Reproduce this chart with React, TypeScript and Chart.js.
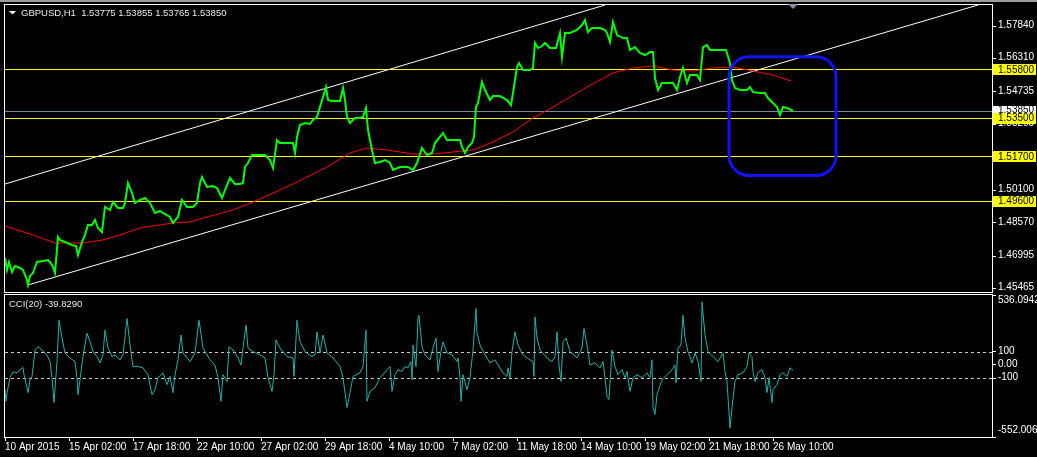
import React, { useEffect, useRef } from 'react';
import { Chart, registerables } from 'chart.js';

Chart.register(...registerables);

const W = 1037;
const H = 457;
const FONT = "'Liberation Sans', Arial, sans-serif";

// ---- Price panel data (bar index from left edge, H1 close) ----
const priceBars = [0, 2, 4, 7, 10, 15, 18, 22, 23, 25, 28, 32, 38, 43, 45, 48, 50, 53, 55, 60, 67, 71, 73, 77, 80, 83, 87, 90, 93, 95, 97, 100, 105, 108, 113, 118, 120, 123, 127, 130, 135, 140, 145, 150, 155, 158, 165, 168, 173, 177, 182, 188, 192, 195, 197, 202, 208, 212, 217, 220, 225, 230, 235, 238, 240, 243, 247, 253, 260, 265, 268, 272, 275, 282, 288, 290, 292, 295, 300, 305, 308, 312, 315, 318, 321, 323, 327, 335, 338, 340, 342, 345, 350, 355, 358, 361, 363, 367, 370, 375, 380, 385, 388, 395, 403, 408, 412, 417, 422, 427, 430, 438, 442, 450, 455, 457, 460, 463, 467, 469, 471, 473, 477, 480, 485, 488, 495, 502, 506, 508, 512, 514, 518, 525, 528, 530, 533, 537, 540, 545, 551, 555, 557, 560, 565, 572, 577, 580, 583, 587, 595, 600, 602, 605, 608, 612, 618, 622, 625, 630, 635, 640, 645, 648, 650, 653, 657, 665, 668, 672, 675, 678, 682, 685, 692, 695, 698, 702, 705, 715, 721, 725, 727, 730, 735, 742, 745, 748, 755, 760, 763, 768, 772, 775, 778, 782, 788];
const priceClose = [1.46912, 1.46347, 1.46724, 1.46253, 1.46535, 1.46441, 1.46347, 1.45876, 1.4564, 1.46064, 1.46206, 1.46724, 1.46771, 1.46818, 1.46724, 1.46488, 1.46206, 1.47901, 1.4776, 1.47666, 1.47524, 1.47477, 1.47053, 1.47666, 1.47995, 1.48466, 1.48466, 1.48702, 1.48325, 1.48231, 1.48137, 1.49314, 1.49173, 1.4955, 1.49267, 1.49267, 1.49503, 1.50445, 1.49974, 1.49503, 1.49644, 1.49738, 1.49503, 1.49032, 1.49126, 1.49032, 1.48843, 1.48561, 1.48843, 1.49644, 1.49314, 1.49314, 1.49503, 1.50445, 1.50727, 1.50256, 1.50303, 1.50209, 1.49738, 1.50115, 1.5068, 1.50398, 1.50398, 1.50445, 1.51198, 1.51387, 1.51763, 1.51763, 1.51763, 1.51528, 1.51151, 1.5247, 1.52329, 1.52329, 1.52329, 1.51858, 1.52611, 1.53176, 1.53271, 1.53224, 1.53412, 1.53553, 1.54024, 1.54495, 1.54966, 1.54354, 1.54307, 1.54307, 1.54919, 1.54354, 1.53553, 1.53271, 1.53506, 1.53506, 1.53553, 1.53977, 1.52941, 1.51999, 1.51387, 1.51434, 1.51528, 1.51387, 1.51057, 1.51198, 1.51198, 1.51057, 1.51387, 1.52093, 1.51763, 1.51858, 1.52329, 1.528, 1.5247, 1.5247, 1.5247, 1.5214, 1.51858, 1.5214, 1.52329, 1.52611, 1.54024, 1.54213, 1.55202, 1.54825, 1.54354, 1.54542, 1.54542, 1.54354, 1.54118, 1.54684, 1.55908, 1.56097, 1.55767, 1.55767, 1.55861, 1.57039, 1.56803, 1.56897, 1.57039, 1.56803, 1.56803, 1.5751, 1.56379, 1.5751, 1.5751, 1.57651, 1.57886, 1.58122, 1.57557, 1.57745, 1.57745, 1.57651, 1.5751, 1.57086, 1.58028, 1.57415, 1.57274, 1.57274, 1.56709, 1.5685, 1.56568, 1.56473, 1.56615, 1.56615, 1.5539, 1.54825, 1.55155, 1.55155, 1.55155, 1.54825, 1.55437, 1.55861, 1.55155, 1.55531, 1.55531, 1.55296, 1.5685, 1.56944, 1.56709, 1.56709, 1.56709, 1.56097, 1.55296, 1.54919, 1.54825, 1.54825, 1.54966, 1.54731, 1.54684, 1.54684, 1.54448, 1.54213, 1.54024, 1.53647, 1.54024, 1.53977, 1.5385];

const maBars = [0, 28, 50, 65, 78, 98, 115, 135, 168, 185, 202, 228, 248, 264, 288, 322, 345, 362, 382, 408, 428, 448, 468, 488, 508, 528, 548, 582, 608, 628, 648, 668, 688, 708, 728, 748, 768, 786];
const maValues = [1.48419, 1.47995, 1.47619, 1.47619, 1.47619, 1.4776, 1.47995, 1.48325, 1.48561, 1.48608, 1.48843, 1.49173, 1.4955, 1.49879, 1.50398, 1.51198, 1.51858, 1.52093, 1.51999, 1.51811, 1.51811, 1.51905, 1.51999, 1.52376, 1.52847, 1.53506, 1.54024, 1.54966, 1.55626, 1.55861, 1.55955, 1.55767, 1.5572, 1.55861, 1.55908, 1.5572, 1.55531, 1.55249];

const channelUpperBars = [0, 600];
const channelUpperPrices = [1.50398, 1.58828];
const channelLowerBars = [23, 973];
const channelLowerPrices = [1.4564, 1.58828];

const levelPrices = [1.558, 1.535, 1.517, 1.496];
const levelLabels = ['1.55800', '1.53500', '1.51700', '1.49600'];
const bidPrice = 1.5385;
const bidLabel = '1.53850';

const priceTicks = [1.45465, 1.46995, 1.4857, 1.501, 1.5163, 1.53205, 1.54735, 1.5631, 1.5784];
const priceMin = 1.4531;
const priceMax = 1.5883;

const boxBars = [724, 831];
const boxPrices = [1.5639, 1.508];

const titleText = 'GBPUSD,H1  1.53775 1.53855 1.53765 1.53850';

// ---- CCI panel data ----
const cciBars = [0, 1, 2, 5, 8, 12, 15, 18, 19, 22, 23, 25, 27, 30, 33, 37, 42, 45, 47, 49, 52, 54, 57, 60, 65, 70, 72, 73, 75, 78, 82, 85, 88, 92, 95, 98, 100, 103, 107, 110, 115, 118, 122, 125, 128, 133, 138, 143, 147, 150, 153, 158, 162, 165, 168, 170, 173, 176, 178, 185, 190, 194, 198, 205, 210, 213, 216, 218, 222, 224, 228, 233, 236, 238, 241, 243, 248, 255, 260, 263, 267, 269, 271, 275, 282, 288, 289, 292, 295, 300, 307, 310, 312, 315, 318, 322, 328, 335, 338, 342, 345, 348, 355, 358, 361, 362, 365, 370, 375, 382, 385, 387, 390, 393, 397, 400, 403, 406, 407, 408, 411, 413, 414, 417, 420, 425, 428, 431, 433, 436, 438, 442, 447, 452, 453, 455, 456, 458, 462, 465, 468, 471, 472, 475, 480, 485, 490, 493, 498, 502, 503, 505, 507, 510, 513, 518, 525, 528, 529, 530, 532, 535, 542, 547, 550, 552, 554, 556, 558, 561, 565, 572, 577, 579, 582, 585, 590, 595, 598, 600, 602, 604, 607, 610, 613, 617, 620, 622, 625, 628, 632, 637, 642, 645, 647, 648, 650, 652, 657, 662, 667, 670, 671, 673, 676, 678, 680, 683, 687, 690, 693, 696, 697, 700, 703, 708, 713, 718, 720, 722, 725, 727, 730, 733, 738, 742, 744, 747, 748, 750, 753, 757, 760, 762, 764, 767, 768, 772, 775, 778, 782, 785, 788];
const cciValues = [-189, -278, -212, -98, -52, -60, -37, -19, -75, -174, -212, -113, -90, 115, 140, 115, 77, 26, -98, -288, 26, 343, 206, 92, 54, 26, -98, -227, -113, 64, 244, 178, 102, 64, 16, 77, 267, 130, 64, 77, 39, 77, 356, 153, -12, -12, -22, -75, -227, -189, -98, -60, -151, -88, -212, -75, 39, 229, 92, 26, 92, 343, 130, 39, 0, -98, -278, -75, -126, 140, 115, 54, 0, 130, 305, 130, 102, 77, 54, -98, -202, -75, 191, 130, 64, 54, -88, 343, 178, 102, 64, 77, 254, 92, 229, 92, 54, -12, -98, -326, -212, -88, -60, -12, 267, -278, -202, -174, -98, -37, -12, -202, -75, -37, -50, -12, -22, 26, -113, 153, -12, 356, 381, 140, 77, 39, 130, 206, -50, 102, 178, 92, 77, 26, 54, -98, -278, -75, -189, -98, 115, 432, 244, 153, 77, 16, 39, 0, -60, -88, -22, -98, 102, 254, 153, 77, 39, 26, -88, 368, 206, 115, 54, 26, 64, 254, 0, -126, 178, 206, 102, 54, 130, 280, 153, 0, 16, -22, 26, -98, -240, -265, 115, -12, -75, -37, -98, -50, -202, -98, -75, -98, -60, -98, 39, -326, -379, -227, -113, -75, -37, 0, -136, 130, 153, 381, 206, 102, 16, 92, 26, -126, 483, 229, 102, 64, 26, 92, -50, -126, -485, -326, -126, -75, -60, -12, 92, 64, -50, -126, -60, -37, -98, -212, -98, -288, -189, -151, -75, -60, -88, -22, -40];

const cciTicks = [-552.0064, -100, 0, 100, 536.0942];
const cciTickLabels = ['-552.0064', '-100', '0.00', '100', '536.0942'];
const cciLevels = [100, -100];
const cciMin = -552.0064;
const cciMax = 536.0942;
const cciTitle = 'CCI(20) -39.8290';

const timeTickBars = [0, 64, 128, 192, 256, 320, 384, 448, 512, 576, 640, 704, 768];
const timeLabels = ['10 Apr 2015', '15 Apr 02:00', '17 Apr 18:00', '22 Apr 10:00', '27 Apr 02:00', '29 Apr 18:00', '4 May 10:00', '7 May 02:00', '11 May 18:00', '14 May 10:00', '19 May 02:00', '21 May 18:00', '26 May 10:00'];

const BAR_SPAN = 987;

const toXY = (xs: number[], ys: number[]) => xs.map((x, i) => ({ x, y: ys[i] }));

function roundRectPath(ctx: CanvasRenderingContext2D, x: number, y: number, w: number, h: number, r: number) {
  ctx.beginPath();
  ctx.moveTo(x + r, y);
  ctx.lineTo(x + w - r, y);
  ctx.arcTo(x + w, y, x + w, y + r, r);
  ctx.lineTo(x + w, y + h - r);
  ctx.arcTo(x + w, y + h, x + w - r, y + h, r);
  ctx.lineTo(x + r, y + h);
  ctx.arcTo(x, y + h, x, y + h - r, r);
  ctx.lineTo(x, y + r);
  ctx.arcTo(x, y, x + r, y, r);
  ctx.closePath();
}

const fixVertical = (s: any) => {
  s.width = 45;
  s.paddingTop = 0;
  s.paddingBottom = 0;
};

const fixHorizontal = (s: any) => {
  s.height = 20;
  s.paddingLeft = 0;
  s.paddingRight = 0;
};

const mainPlugin = {
  id: 'mainDecor',
  beforeDraw(chart: any) {
    const ctx = chart.ctx;
    ctx.save();
    ctx.fillStyle = '#9c9c9c';
    ctx.fillRect(0, 0, W, 2);
    ctx.restore();
  },
  beforeDatasetsDraw(chart: any) {
    const { ctx, chartArea: a, scales } = chart;
    const y = scales.y;
    ctx.save();
    ctx.beginPath();
    ctx.rect(a.left, a.top, a.right - a.left, a.bottom - a.top);
    ctx.clip();
    ctx.lineWidth = 1;
    const by = Math.round(y.getPixelForValue(bidPrice)) + 0.5;
    ctx.strokeStyle = '#778899';
    ctx.beginPath();
    ctx.moveTo(a.left, by);
    ctx.lineTo(a.right, by);
    ctx.stroke();
    ctx.strokeStyle = '#ffff00';
    levelPrices.forEach((p) => {
      const py = Math.round(y.getPixelForValue(p)) + 0.5;
      ctx.beginPath();
      ctx.moveTo(a.left, py);
      ctx.lineTo(a.right, py);
      ctx.stroke();
    });
    ctx.restore();
  },
  afterDatasetsDraw(chart: any) {
    const { ctx, scales } = chart;
    const x1 = scales.x.getPixelForValue(boxBars[0]);
    const x2 = scales.x.getPixelForValue(boxBars[1]);
    const y1 = scales.y.getPixelForValue(boxPrices[0]);
    const y2 = scales.y.getPixelForValue(boxPrices[1]);
    ctx.save();
    ctx.strokeStyle = '#1212f5';
    ctx.lineWidth = 3;
    roundRectPath(ctx, x1, y1, x2 - x1, y2 - y1, 20);
    ctx.stroke();
    ctx.restore();
  },
  afterDraw(chart: any) {
    const { ctx, chartArea: a, scales } = chart;
    const y = scales.y;
    ctx.save();
    ctx.strokeStyle = '#ffffff';
    ctx.lineWidth = 1;
    ctx.strokeRect(a.left - 0.5, a.top - 0.5, a.right - a.left + 1, a.bottom - a.top + 1);
    ctx.font = `10px ${FONT}`;
    ctx.textBaseline = 'middle';
    ctx.textAlign = 'left';
    // bid label
    const by = y.getPixelForValue(bidPrice);
    ctx.fillStyle = '#ffffff';
    ctx.fillRect(a.right + 1, Math.round(by) - 5, W - a.right - 2, 11);
    ctx.fillStyle = '#000000';
    ctx.fillText(bidLabel, a.right + 6, by);
    levelPrices.forEach((p, i) => {
      const py = y.getPixelForValue(p);
      ctx.fillStyle = '#ffff00';
      ctx.fillRect(a.right + 1, Math.round(py) - 5, W - a.right - 2, 11);
      ctx.fillStyle = '#000000';
      ctx.fillText(levelLabels[i], a.right + 6, py + 0.5);
    });
    // title
    ctx.fillStyle = '#ffffff';
    ctx.beginPath();
    ctx.moveTo(9, 11);
    ctx.lineTo(16, 11);
    ctx.lineTo(12.5, 14.5);
    ctx.closePath();
    ctx.fill();
    ctx.font = `9.5px ${FONT}`;
    ctx.fillStyle = '#e8e8e8';
    ctx.fillText(titleText, 21, 13);
    // chart shift marker
    const sx = scales.x.getPixelForValue(priceBars[priceBars.length - 1]);
    ctx.fillStyle = '#8592a0';
    ctx.beginPath();
    ctx.moveTo(sx - 5, 4);
    ctx.lineTo(sx + 5, 4);
    ctx.lineTo(sx, 9);
    ctx.closePath();
    ctx.fill();
    ctx.restore();
  },
};

const cciPlugin = {
  id: 'cciDecor',
  beforeDatasetsDraw(chart: any) {
    const { ctx, chartArea: a, scales } = chart;
    ctx.save();
    ctx.strokeStyle = '#c8c8c8';
    ctx.lineWidth = 1;
    ctx.setLineDash([3, 3]);
    cciLevels.forEach((v) => {
      const py = Math.round(scales.y.getPixelForValue(v)) + 0.5;
      ctx.beginPath();
      ctx.moveTo(a.left, py);
      ctx.lineTo(a.right, py);
      ctx.stroke();
    });
    ctx.restore();
  },
  afterDraw(chart: any) {
    const { ctx, chartArea: a } = chart;
    ctx.save();
    ctx.strokeStyle = '#ffffff';
    ctx.lineWidth = 1;
    ctx.strokeRect(a.left - 0.5, a.top - 0.5, a.right - a.left + 1, a.bottom - a.top + 1);
    ctx.font = `9.5px ${FONT}`;
    ctx.textBaseline = 'middle';
    ctx.textAlign = 'left';
    ctx.fillStyle = '#e8e8e8';
    ctx.fillText(cciTitle, 9, 304);
    ctx.restore();
  },
};

export default function App() {
  const mainRef = useRef<HTMLCanvasElement>(null);
  const cciRef = useRef<HTMLCanvasElement>(null);

  useEffect(() => {
    if (!mainRef.current || !cciRef.current) return;
    const tickFont = { family: FONT, size: 10 };

    const main = new Chart(mainRef.current, {
      type: 'line',
      data: {
        datasets: [
          { label: 'Close', data: toXY(priceBars, priceClose), borderColor: '#00ff00', borderWidth: 2, pointRadius: 0, tension: 0 },
          { label: 'MA', data: toXY(maBars, maValues), borderColor: '#ff0000', borderWidth: 1, pointRadius: 0, tension: 0 },
          { label: 'Channel upper', data: toXY(channelUpperBars, channelUpperPrices), borderColor: '#ffffff', borderWidth: 1, pointRadius: 0 },
          { label: 'Channel lower', data: toXY(channelLowerBars, channelLowerPrices), borderColor: '#ffffff', borderWidth: 1, pointRadius: 0 },
        ],
      },
      options: {
        animation: false,
        responsive: false,
        events: [],
        layout: { padding: { left: 5, top: 5, right: 0, bottom: H - 292 } },
        plugins: { legend: { display: false }, tooltip: { enabled: false } },
        scales: {
          x: { type: 'linear', min: 0, max: BAR_SPAN, display: false },
          y: {
            type: 'linear',
            position: 'right',
            min: priceMin,
            max: priceMax,
            afterFit: fixVertical,
            afterBuildTicks: (s: any) => { s.ticks = priceTicks.map((v) => ({ value: v })); },
            ticks: {
              color: '#ffffff',
              font: tickFont,
              padding: 2,
              autoSkip: false,
              labelOffset: -1,
              callback: (v: any) => Number(v).toFixed(5),
            },
            grid: { drawOnChartArea: false, drawTicks: true, tickLength: 4, color: '#ffffff' },
            border: { display: false },
          },
        },
      } as any,
      plugins: [mainPlugin],
    });

    const cci = new Chart(cciRef.current, {
      type: 'line',
      data: {
        datasets: [
          { label: 'CCI(20)', data: toXY(cciBars, cciValues), borderColor: '#20b2aa', borderWidth: 1, pointRadius: 0, tension: 0 },
        ],
      },
      options: {
        animation: false,
        responsive: false,
        events: [],
        layout: { padding: { left: 5, top: 295, right: 0, bottom: 0 } },
        plugins: { legend: { display: false }, tooltip: { enabled: false } },
        scales: {
          x: {
            type: 'linear',
            position: 'bottom',
            min: 0,
            max: BAR_SPAN,
            afterFit: fixHorizontal,
            afterBuildTicks: (s: any) => { s.ticks = timeTickBars.map((v) => ({ value: v })); },
            ticks: {
              color: '#ffffff',
              font: tickFont,
              align: 'start',
              autoSkip: false,
              maxRotation: 0,
              minRotation: 0,
              padding: 0,
              callback: (_v: any, i: number) => timeLabels[i],
            },
            grid: { drawOnChartArea: false, drawTicks: true, tickLength: 4, color: '#ffffff' },
            border: { display: false },
          },
          y: {
            type: 'linear',
            position: 'right',
            min: cciMin,
            max: cciMax,
            afterFit: fixVertical,
            afterBuildTicks: (s: any) => { s.ticks = cciTicks.map((v) => ({ value: v })); },
            ticks: {
              color: '#ffffff',
              font: tickFont,
              padding: 2,
              autoSkip: false,
              labelOffset: -1,
              callback: (_v: any, i: number) => {
                const lbl = cciTickLabels[i];
                if (i === cciTickLabels.length - 1) return ['', lbl];
                if (i === 0) return [lbl, ''];
                return lbl;
              },
            },
            grid: { drawOnChartArea: false, drawTicks: true, tickLength: 4, color: '#ffffff' },
            border: { display: false },
          },
        },
      } as any,
      plugins: [cciPlugin],
    });

    return () => {
      main.destroy();
      cci.destroy();
    };
  }, []);

  return (
    <div style={{ position: 'fixed', left: 0, top: 0, width: W, height: H, background: '#000000', overflow: 'hidden' }}>
      <canvas ref={mainRef} width={W} height={H} style={{ position: 'absolute', left: 0, top: 0 }} />
      <canvas ref={cciRef} width={W} height={H} style={{ position: 'absolute', left: 0, top: 0 }} />
    </div>
  );
}
